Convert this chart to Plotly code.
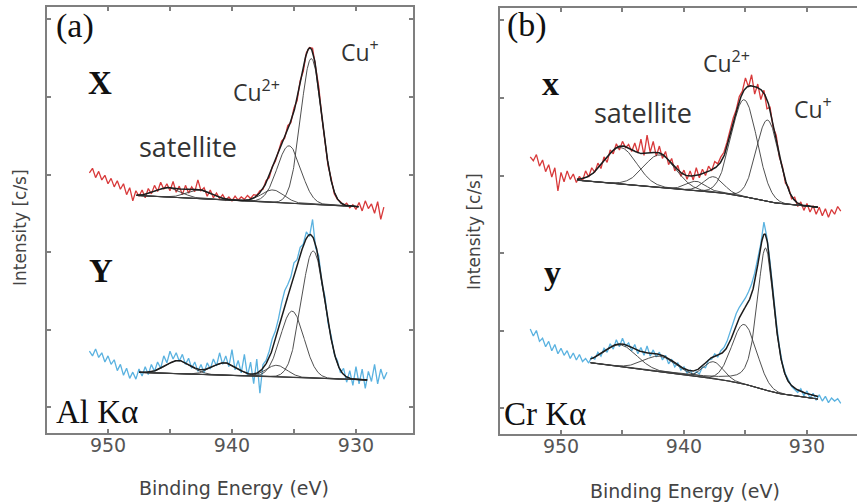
import numpy as np
import plotly.graph_objects as go

W, H = 857, 504

# ---------------- measured Cu 2p3/2 spectra (0.25 eV steps, high -> low binding energy)
A_RED_START = 951.5
A_RED = [3.02, 3.08, 2.96, 3.04, 2.93, 2.99, 2.88, 2.95, 2.84, 2.92, 2.81, 2.88,
         2.74, 2.83, 2.66, 2.79, 2.72, 2.80, 2.70, 2.82, 2.75, 2.86, 2.78, 2.90,
         2.81, 2.88, 2.79, 2.91, 2.77, 2.85, 2.74, 2.86, 2.76, 2.84, 2.78, 2.93,
         2.79, 2.83, 2.72, 2.80, 2.70, 2.76, 2.69, 2.74, 2.67, 2.71, 2.66, 2.72,
         2.67, 2.71, 2.68, 2.73, 2.69, 2.74, 2.73, 2.79, 2.81, 2.92, 2.96, 3.10,
         3.17, 3.31, 3.43, 3.47, 3.63, 3.67, 3.86, 3.95, 4.21, 4.33, 4.57, 4.64,
         4.63, 4.38, 4.13, 3.74, 3.45, 3.11, 2.95, 2.75, 2.68, 2.65, 2.60, 2.63,
         2.57, 2.61, 2.55, 2.64, 2.53, 2.66, 2.56, 2.62, 2.50, 2.65, 2.42, 2.58]

A_BLUE_START = 951.5
A_BLUE = [0.72, 0.66, 0.75, 0.64, 0.70, 0.58, 0.66, 0.55, 0.61, 0.47, 0.55, 0.41,
          0.50, 0.37, 0.45, 0.36, 0.49, 0.40, 0.52, 0.42, 0.55, 0.46, 0.58, 0.50,
          0.66, 0.57, 0.72, 0.62, 0.70, 0.59, 0.68, 0.55, 0.63, 0.50, 0.58, 0.46,
          0.55, 0.44, 0.57, 0.49, 0.62, 0.53, 0.70, 0.55, 0.66, 0.52, 0.74, 0.48,
          0.60, 0.44, 0.68, 0.40, 0.58, 0.30, 0.62, 0.18, 0.55, 0.60, 0.72, 0.88,
          0.98, 1.14, 1.34, 1.50, 1.58, 1.68, 1.86, 1.90, 2.06, 2.10, 2.26, 2.20,
          2.42, 2.05, 1.95, 1.60, 1.42, 1.08, 0.92, 0.68, 0.60, 0.44, 0.50, 0.32,
          0.47, 0.28, 0.52, 0.30, 0.49, 0.24, 0.46, 0.33, 0.55, 0.30, 0.49, 0.36,
          0.45]

B_RED_START = 952.5
B_RED = [3.24, 3.19, 3.27, 3.12, 3.20, 3.05, 3.14, 2.98, 3.10, 2.80, 3.04, 2.92,
         3.06, 2.95, 3.02, 2.91, 2.99, 2.93, 3.06, 2.98, 3.10, 3.04, 3.16, 3.09,
         3.24, 3.17, 3.33, 3.28, 3.41, 3.33, 3.44, 3.36, 3.40, 3.31, 3.42, 3.29,
         3.47, 3.26, 3.52, 3.30, 3.44, 3.25, 3.38, 3.22, 3.31, 3.14, 3.22, 3.06,
         3.13, 2.99, 3.07, 2.95, 3.06, 2.94, 3.10, 2.97, 3.08, 3.00, 3.12, 3.06,
         3.18, 3.15, 3.24, 3.30, 3.43, 3.58, 3.74, 3.85, 4.02, 4.09, 4.26, 4.14,
         4.30, 4.05, 4.18, 3.98, 4.10, 3.86, 3.88, 3.62, 3.52, 3.24, 3.12, 2.90,
         2.85, 2.70, 2.72, 2.60, 2.66, 2.55, 2.64, 2.53, 2.61, 2.50, 2.59, 2.48,
         2.57, 2.46, 2.56, 2.50, 2.60, 2.54]

B_BLUE_START = 952.5
B_BLUE = [1.02, 0.93, 1.00, 0.86, 0.90, 0.79, 0.86, 0.74, 0.82, 0.70, 0.77, 0.68,
          0.74, 0.64, 0.71, 0.62, 0.69, 0.60, 0.64, 0.58, 0.66, 0.63, 0.72, 0.67,
          0.77, 0.72, 0.83, 0.76, 0.88, 0.79, 0.90, 0.80, 0.84, 0.74, 0.82, 0.70,
          0.78, 0.68, 0.80, 0.67, 0.75, 0.66, 0.72, 0.62, 0.68, 0.57, 0.63, 0.53,
          0.58, 0.49, 0.53, 0.45, 0.49, 0.42, 0.47, 0.44, 0.53, 0.52, 0.62, 0.63,
          0.70, 0.66, 0.74, 0.78, 0.86, 0.98, 1.10, 1.22, 1.30, 1.36, 1.42, 1.50,
          1.60, 1.74, 1.92, 2.12, 2.40, 2.20, 1.88, 1.48, 1.12, 0.80, 0.58, 0.44,
          0.36, 0.28, 0.24, 0.20, 0.25, 0.16, 0.22, 0.13, 0.19, 0.10, 0.17, 0.09,
          0.15, 0.07, 0.13, 0.09, 0.12, 0.06]

STEP = 0.25

# ---------------- peak-fit parameters: satellites ..., Cu2+, Cu+ (last two = main lines)
A_RED_FIT = dict(span=(947.7, 929.8), bg=(2.585, 0.0081, 0.0),
                 centre=[945.1, 942.6, 936.7, 935.4, 933.6],
                 height=[0.12, 0.11, 0.16, 0.74, 1.88],
                 sigma=[1.0, 1.0, 0.9, 0.95, 0.85],
                 eta=[0, 0, 0, 0, 0])
A_BLUE_FIT = dict(span=(947.5, 929.1), bg=(0.35, 0.00527, 0.0),
                  centre=[944.3, 940.6, 936.4, 935.15, 933.45],
                  height=[0.17, 0.16, 0.15, 0.855, 1.64],
                  sigma=[1.0, 1.0, 0.85, 0.95, 0.95],
                  eta=[0, 0, 0, 0, 0])
B_RED_FIT = dict(span=(948.7, 929.1), bg=(2.59, 0.014, 0.076),
                 centre=[945.15, 941.95, 939.0, 937.6, 935.1, 933.2],
                 height=[0.47, 0.42, 0.12, 0.20, 1.25, 1.05],
                 sigma=[1.3, 1.3, 0.8, 0.8, 1.05, 0.92],
                 eta=[0, 0, 0, 0, 0, 0])
B_BLUE_FIT = dict(span=(947.6, 929.1), bg=(0.116, 0.0205, 0.089),
                  centre=[945.15, 941.95, 937.6, 935.1, 933.36],
                  height=[0.28, 0.20, 0.22, 0.77, 1.83],
                  sigma=[1.3, 1.3, 0.8, 1.0, 0.69],
                  eta=[0, 0, 0, 0, 0.5])

X_MAJOR = 10   # labelled binding-energy ticks every 10 eV
X_MINOR = 5    # unlabelled ticks every 5 eV
Y_TICKS = [0, 1, 2, 3, 4, 5]

RED = "#d8393a"
BLUE = "#5ab2e0"
FIT = "#3c3c3c"
ENV = "#1c1c1c"
FRAME = "#7f7f7f"


def energies(start, n):
    return start - STEP * np.arange(n)


def peak(e, c, h, s, eta):
    g = np.exp(-(e - c) ** 2 / (2 * s * s))
    gam = s * np.sqrt(2 * np.log(2))
    lor = 1.0 / (1.0 + ((e - c) / gam) ** 2)
    return h * ((1 - eta) * g + eta * lor)


def fit_model(p):
    e_hi, e_lo = p["span"]
    b0, slope, step = p["bg"]
    e = np.linspace(e_lo, e_hi, 700)
    comps = [peak(e, c, h, s, m) for c, h, s, m in
             zip(p["centre"], p["height"], p["sigma"], p["eta"])]
    main = comps[-1] + comps[-2]
    cum = np.concatenate([[0.0], np.cumsum(0.5 * (main[1:] + main[:-1]) * np.diff(e))])
    bg = b0 + slope * (e - e_lo) + step * cum / cum[-1]
    return e, bg, [bg + c for c in comps], bg + sum(comps)


fig = go.Figure()


def add_panel(xa, ya, start, values, colour, p):
    e = energies(start, len(values))
    fig.add_trace(go.Scatter(x=e, y=values, mode="lines", xaxis=xa, yaxis=ya,
                             line=dict(color=colour, width=1.3), hoverinfo="skip"))
    ef, bg, comps, env = fit_model(p)
    fig.add_trace(go.Scatter(x=ef, y=bg, mode="lines", xaxis=xa, yaxis=ya,
                             line=dict(color=FIT, width=1.1), hoverinfo="skip"))
    for c in comps:
        fig.add_trace(go.Scatter(x=ef, y=c, mode="lines", xaxis=xa, yaxis=ya,
                                 line=dict(color=FIT, width=0.9), hoverinfo="skip"))
    fig.add_trace(go.Scatter(x=ef, y=env, mode="lines", xaxis=xa, yaxis=ya,
                             line=dict(color=ENV, width=1.5), hoverinfo="skip"))


add_panel("x", "y", A_RED_START, A_RED, RED, A_RED_FIT)
add_panel("x", "y", A_BLUE_START, A_BLUE, BLUE, A_BLUE_FIT)
add_panel("x2", "y2", B_RED_START, B_RED, RED, B_RED_FIT)
add_panel("x2", "y2", B_BLUE_START, B_BLUE, BLUE, B_BLUE_FIT)


def px(x):
    return x / W


def py(y):
    return 1 - y / H


xcommon = dict(tickmode="linear", tick0=930, dtick=X_MAJOR, ticks="inside", ticklen=4,
               tickwidth=1.5, tickcolor=FRAME, showline=True, linecolor=FRAME,
               linewidth=2, mirror="ticks", showgrid=False, zeroline=False,
               minor=dict(dtick=X_MINOR, tick0=930, ticks="inside", ticklen=4,
                          tickwidth=1.5, tickcolor=FRAME, showgrid=False),
               tickfont=dict(family="DejaVu Sans", size=19, color="#555555"),
               ticklabelstandoff=-6)
ycommon = dict(tickvals=Y_TICKS, ticks="inside", ticklen=4, tickwidth=1.5,
               tickcolor=FRAME, showline=True, linecolor=FRAME, linewidth=2,
               showgrid=False, zeroline=False, showticklabels=False,
               range=[-0.335, 5.161])

fig.update_layout(
    width=W, height=H, margin=dict(l=0, r=0, t=0, b=0),
    paper_bgcolor="white", plot_bgcolor="white", showlegend=False,
    xaxis=dict(xcommon, domain=[px(47), px(413)], range=[954.92, 925.40], anchor="y"),
    xaxis2=dict(xcommon, domain=[px(500), 1.0], range=[954.96, 925.93], anchor="y2"),
    yaxis=dict(ycommon, domain=[py(433), py(7)], anchor="x", mirror="ticks"),
    yaxis2=dict(ycommon, domain=[py(434), py(8)], anchor="x2", mirror=False),
)

SERIF = "Liberation Serif"
SANS = "Open Sans"


def label(text, x, y, size, family, color="#111111", xanchor="center", yanchor="middle"):
    fig.add_annotation(text=text, x=px(x), y=py(y), xref="paper", yref="paper",
                       showarrow=False, xanchor=xanchor, yanchor=yanchor,
                       font=dict(family=family, size=size, color=color))


# panel (a)
label("(a)", 75, 26, 34, SERIF)
label("<b>X</b>", 100, 83, 33, SERIF)
label("<b>Y</b>", 101, 271, 33, SERIF)
label("Al K\u03b1", 54, 412, 33, SERIF, xanchor="left")
label("satellite", 188, 146, 27, SANS, color="#333333")
label("Cu<sup>2+</sup>", 231, 91, 23, SANS, color="#333333", xanchor="left")
label("Cu<sup>+</sup>", 339, 51, 23, SANS, color="#333333", xanchor="left")
label("Binding Energy (eV)", 234, 488, 19, "DejaVu Sans", color="#444444")
label("Intensity [c/s]", 20, 228, 17, "DejaVu Sans", color="#444444")

# panel (b)
label("(b)", 527, 25, 34, SERIF)
label("<b>x</b>", 550, 84, 34, SERIF)
label("<b>y</b>", 552, 272, 34, SERIF)
label("Cr K\u03b1", 502, 414, 33, SERIF, xanchor="left")
label("satellite", 643, 113, 27, SANS, color="#333333")
label("Cu<sup>2+</sup>", 701, 62, 23, SANS, color="#333333", xanchor="left")
label("Cu<sup>+</sup>", 792, 108, 23, SANS, color="#333333", xanchor="left")
label("Binding Energy (eV)", 685, 491, 19, "DejaVu Sans", color="#444444")
label("Intensity [c/s]", 474, 232, 17, "DejaVu Sans", color="#444444")

for ann in fig.layout.annotations:
    if ann.text == "Intensity [c/s]":
        ann.textangle = -90

fig.write_html("out.html")
